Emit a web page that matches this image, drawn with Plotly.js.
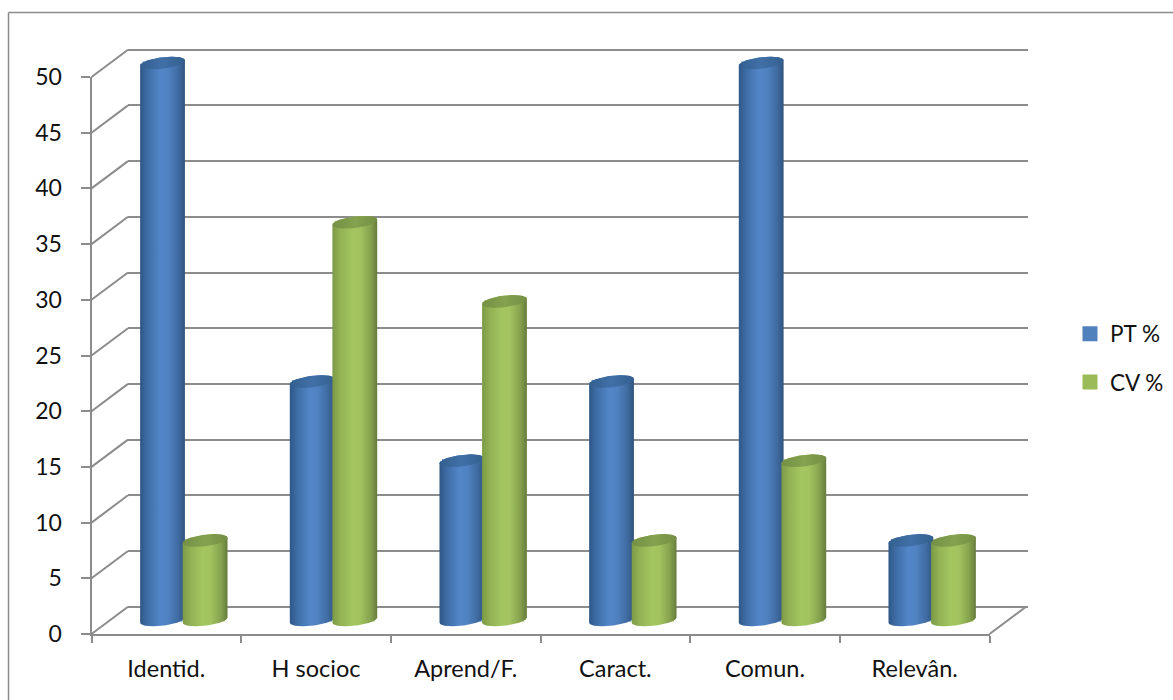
<!DOCTYPE html>
<html>
<head>
<meta charset="utf-8">
<script src="https://cdn.plot.ly/plotly-3.0.1.min.js"></script>
<style>html,body{margin:0;padding:0;background:#fff}</style>
</head>
<body>
<div id="chart" style="width:1173px;height:700px"></div>
<script>
// Chart values
const categories = ["Identid.", "H socioc", "Aprend/F.", "Caract.", "Comun.", "Relevân."];
const ptValues = [50, 21.4, 14.3, 21.4, 50, 7.14];
const cvValues = [7.14, 35.7, 28.6, 7.14, 14.3, 7.14];
const yTicks = [0, 5, 10, 15, 20, 25, 30, 35, 40, 45, 50];

// Page and pseudo-3D box geometry, in pixels
const W = 1173, H = 700;
const FRONT = {left: 91.5, right: 989.5, zero: 634, top: 77};
const DEPTH = {dx: 36.5, dy: 27.3};          // front plane to back wall
const MID = {dx: 17.5, dy: 14};              // front plane to cylinder axes
const pxPerUnit = (FRONT.zero - FRONT.top) / 50;
const pxPerCat = (FRONT.right - FRONT.left) / categories.length;
const GREY = "#8c8c8c";

const fx = px => px / W;
const fy = py => 1 - py / H;

// Cylinder proportions
const halfWidth = 22.4, capMinor = 5.8, capTilt = 2.6, barShift = 21.3;
const SERIES = [
  {name: "PT %", values: ptValues, side: -1, base: "#4f81bd", cap: ["#33608f", "#4170a8"],
   shade: [[0, "#2f5787"], [0.18, "#3f6fa8"], [0.45, "#5386c8"], [0.62, "#5082c2"], [0.85, "#3f6ba1"], [1, "#32547c"]]},
  {name: "CV %", values: cvValues, side: 1, base: "#9bbb59", cap: ["#748f44", "#84a24f"],
   shade: [[0, "#7c9a46"], [0.18, "#92b254"], [0.45, "#a4c660"], [0.62, "#a2c35f"], [0.85, "#86a24e"], [1, "#667c3c"]]}
];

// Outline helpers: pixel offsets converted to axis units around one cylinder
function ellipsePoint(cx, v, t) {
  const ox = halfWidth * Math.cos(t);
  const oy = capMinor * Math.sin(t) + capTilt * Math.cos(t);
  return [cx + ox / pxPerCat, v + oy / pxPerUnit];
}
function bodyOutline(cx, v) {
  const xs = [], ys = [];
  for (let i = 0; i <= 40; i++) {
    const p = ellipsePoint(cx, 0, Math.PI + Math.PI * i / 40);
    xs.push(p[0]); ys.push(p[1]);
  }
  for (let i = 0; i <= 40; i++) {
    const p = ellipsePoint(cx, v, Math.PI * i / 40);
    xs.push(p[0]); ys.push(p[1]);
  }
  xs.push(xs[0]); ys.push(ys[0]);
  return {x: xs, y: ys};
}
function capOutline(cx, v) {
  const xs = [], ys = [];
  for (let i = 0; i <= 80; i++) {
    const p = ellipsePoint(cx, v, 2 * Math.PI * i / 80);
    xs.push(p[0]); ys.push(p[1]);
  }
  return {x: xs, y: ys};
}

const traces = [];
// Anchors so the back wall and the front axes get drawn
traces.push({type: "scatter", mode: "lines", xaxis: "x", yaxis: "y", x: [0], y: [null], showlegend: false, hoverinfo: "skip"});
traces.push({type: "scatter", mode: "lines", xaxis: "x2", yaxis: "y2", x: categories, y: categories.map(() => null), showlegend: false, hoverinfo: "skip"});

SERIES.forEach(s => {
  const centers = categories.map((c, i) => i + s.side * barShift / pxPerCat);
  traces.push({
    type: "bar", name: s.name, legendgroup: s.name, xaxis: "x3", yaxis: "y3",
    x: centers, y: s.values, width: (2 * halfWidth - 8) / pxPerCat,
    marker: {color: s.base, line: {color: s.base, width: 3}},
    text: categories, textposition: "none", hovertemplate: "%{text}: %{y}<extra>" + s.name + "</extra>"
  });
  s.values.forEach((v, i) => {
    const body = bodyOutline(centers[i], v);
    const cap = capOutline(centers[i], v);
    traces.push({type: "scatter", mode: "lines", xaxis: "x3", yaxis: "y3", x: body.x, y: body.y,
      fill: "toself", line: {width: 0}, fillgradient: {type: "horizontal", colorscale: s.shade},
      showlegend: false, hoverinfo: "skip"});
    traces.push({type: "scatter", mode: "lines", xaxis: "x3", yaxis: "y3", x: cap.x, y: cap.y,
      fill: "toself", line: {width: 0},
      fillgradient: {type: "horizontal", colorscale: [[0, s.cap[0]], [0.5, s.cap[1]], [1, s.cap[0]]]},
      showlegend: false, hoverinfo: "skip"});
  });
});

// Depth edges joining the front axis to the back wall, and the chart frame
const lineStyle = {color: GREY, width: 2};
const shapes = yTicks.map(v => ({
  type: "line", xref: "paper", yref: "paper", layer: "below", line: lineStyle,
  x0: fx(FRONT.left), y0: fy(FRONT.zero - v * pxPerUnit),
  x1: fx(FRONT.left + DEPTH.dx), y1: fy(FRONT.zero - v * pxPerUnit - DEPTH.dy)
}));
shapes.push({type: "line", xref: "paper", yref: "paper", layer: "below", line: lineStyle,
  x0: fx(FRONT.right), y0: fy(FRONT.zero), x1: fx(FRONT.right + DEPTH.dx), y1: fy(FRONT.zero - DEPTH.dy)});
shapes.push({type: "line", xref: "paper", yref: "paper", layer: "below", line: {color: "#8a8a8a", width: 1.5},
  x0: fx(8.5), y0: fy(700), x1: fx(8.5), y1: fy(12.5)});
shapes.push({type: "line", xref: "paper", yref: "paper", layer: "below", line: {color: "#8a8a8a", width: 1.5},
  x0: fx(8.5), y0: fy(12.5), x1: 1, y1: fy(12.5)});

const labelFont = {family: "Lato, 'Noto Sans', sans-serif", size: 23.5, color: "#111111"};
const hidden = {showline: false, showgrid: false, zeroline: false, showticklabels: false, ticks: ""};

const layout = {
  width: W, height: H, autosize: false,
  margin: {l: 0, r: 0, t: 0, b: 0, pad: 0},
  paper_bgcolor: "#ffffff", plot_bgcolor: "rgba(0,0,0,0)",
  showlegend: true,
  barmode: "overlay",
  shapes: shapes,
  legend: {x: fx(1070), y: fy(312.5), xanchor: "left", yanchor: "top",
           font: Object.assign({}, labelFont, {size: 22.5}),
           tracegroupgap: 16, bgcolor: "rgba(0,0,0,0)", itemclick: false, itemdoubleclick: false},
  // Back wall: gridlines only; the range runs past 50 so the top line is kept
  xaxis: Object.assign({}, hidden, {
    domain: [fx(FRONT.left + DEPTH.dx), fx(FRONT.right + DEPTH.dx + 1.5)],
    range: [0, 1], anchor: "y"
  }),
  yaxis: Object.assign({}, hidden, {
    domain: [fy(FRONT.zero - DEPTH.dy), fy(FRONT.top - DEPTH.dy - pxPerUnit)], range: [0, 51], anchor: "x",
    showgrid: true, gridcolor: GREY, gridwidth: 2, zeroline: true, zerolinecolor: GREY, zerolinewidth: 2,
    tickmode: "array", tickvals: yTicks
  }),
  // Front plane: visible axes, ticks and labels
  xaxis2: {
    domain: [fx(FRONT.left), fx(FRONT.right)], anchor: "y2", type: "category",
    categoryorder: "array", categoryarray: categories, range: [-0.5, categories.length - 0.5],
    tickson: "boundaries", ticks: "outside", ticklen: 7, tickwidth: 2, tickcolor: GREY,
    showline: true, linecolor: GREY, linewidth: 2, showgrid: false, zeroline: false,
    tickfont: labelFont, ticklabelstandoff: 13, tickangle: 0
  },
  yaxis2: {
    domain: [fy(FRONT.zero), fy(FRONT.top)], anchor: "x2", range: [0, 50],
    tickmode: "array", tickvals: yTicks, ticktext: yTicks.map(String),
    ticks: "outside", ticklen: 9, tickwidth: 2, tickcolor: GREY,
    showline: true, linecolor: GREY, linewidth: 2, showgrid: false, zeroline: false,
    tickfont: Object.assign({}, labelFont, {size: 23}), ticklabelstandoff: 14
  },
  // Cylinder plane, part way between front and back
  xaxis3: Object.assign({}, hidden, {
    domain: [fx(FRONT.left + MID.dx), fx(FRONT.right + MID.dx)], anchor: "y3",
    range: [-0.5, categories.length - 0.5]
  }),
  yaxis3: Object.assign({}, hidden, {
    domain: [fy(FRONT.zero - MID.dy + pxPerUnit), fy(FRONT.zero - MID.dy - 52 * pxPerUnit)], anchor: "x3",
    range: [-1, 52]
  })
};

Plotly.newPlot("chart", traces, layout, {displayModeBar: false, responsive: false});
</script>
</body>
</html>
